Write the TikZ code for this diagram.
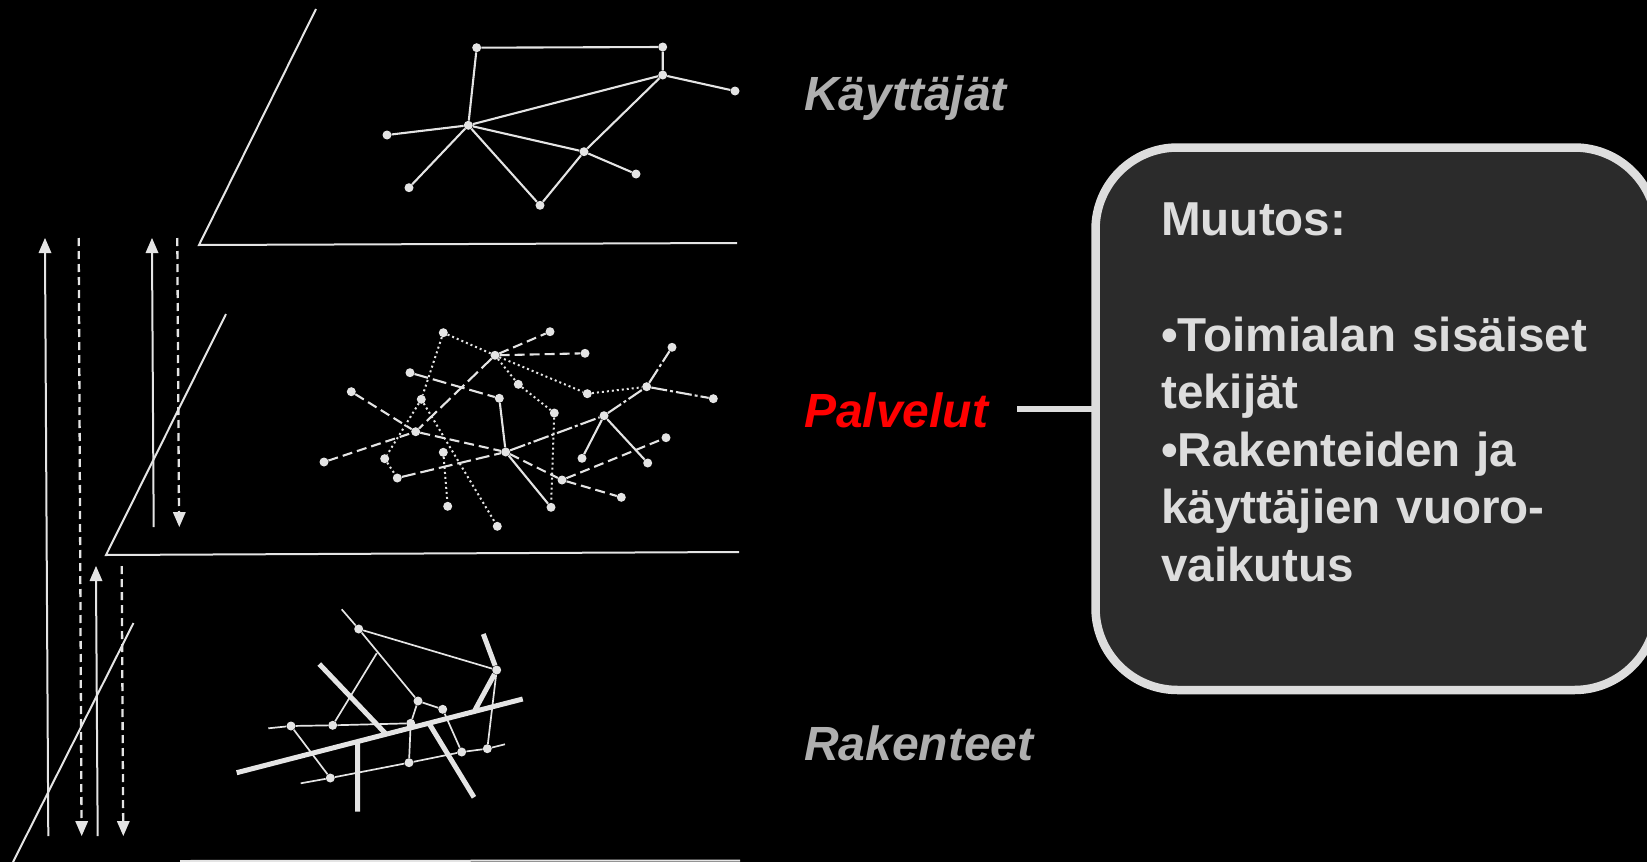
\documentclass[tikz,border=0pt]{standalone}
\usepackage{fontspec}
\setmainfont{Liberation Sans}
\definecolor{linegray}{HTML}{E4E4E4}
\definecolor{labelgray}{HTML}{AFAFAF}
\definecolor{boxfill}{HTML}{2B2B2B}
\definecolor{boxline}{HTML}{DDDDDD}
\definecolor{boxtext}{HTML}{DDDDDD}
\tikzset{
  netdot/.style={circle,fill=linegray,draw=none,inner sep=0pt,minimum size=9pt},
  planeline/.style={draw=linegray,line width=2pt},
  edge/.style={draw=linegray,line width=2.1pt},
  thinedge/.style={draw=linegray,line width=1.7pt},
  heavy/.style={draw=linegray,line width=5pt},
  dots/.style={draw=linegray,line width=2pt,dash pattern=on 2pt off 3pt},
  longdash/.style={draw=linegray,line width=2.1pt,dash pattern=on 14pt off 5pt},
  dashline/.style={draw=linegray,line width=2.1pt,dash pattern=on 10pt off 5pt},
  dashdot/.style={draw=linegray,line width=2.1pt,dash pattern=on 16pt off 3pt on 3pt off 3pt},
  flowup/.style={draw=linegray,line width=2pt},
  flowdash/.style={draw=linegray,line width=2.3pt,dash pattern=on 8pt off 5pt},
  tip/.style={fill=linegray,draw=none},
  lab/.style={font=\fontsize{48}{48}\selectfont\bfseries\itshape,anchor=base west,inner sep=0pt},
}
\begin{document}
\begin{tikzpicture}[x=1pt,y=-1pt]
\useasboundingbox (0,0) rectangle (1647,862);
\fill[black] (0,0) rectangle (1647,862);
% planes
\coordinate (pa1) at (316,9); \coordinate (pa2) at (199,245); \coordinate (pa3) at (737,243);
\coordinate (pb1) at (226,314); \coordinate (pb2) at (106,555); \coordinate (pb3) at (739,552);
\coordinate (pc1) at (133.5,623); \coordinate (pc2) at (13,862);
\coordinate (pd1) at (180,861); \coordinate (pd2) at (740,860.5);
\draw[planeline] (pa1) -- (pa2) -- (pa3);
\draw[planeline] (pb1) -- (pb2) -- (pb3);
\draw[planeline] (pc1) -- (pc2);
\draw[planeline] (pd1) -- (pd2);
% flow arrows
\coordinate (u1a) at (48.3,836); \coordinate (u1b) at (45,250);
\coordinate (u2a) at (153.7,527); \coordinate (u2b) at (152,250);
\coordinate (u3a) at (97.7,836); \coordinate (u3b) at (96,578);
\coordinate (d1a) at (78.7,238); \coordinate (d1b) at (81.5,825);
\coordinate (d2a) at (177.3,238); \coordinate (d2b) at (179,516);
\coordinate (d3a) at (121.7,566); \coordinate (d3b) at (123.2,825);
\draw[flowup] (u1a) -- (u1b); \draw[flowup] (u2a) -- (u2b); \draw[flowup] (u3a) -- (u3b);
\draw[flowdash] (d1a) -- (d1b); \draw[flowdash] (d2a) -- (d2b); \draw[flowdash] (d3a) -- (d3b);
\fill[tip] (45,238) -- (38.5,253) -- (51.5,253) -- cycle;
\fill[tip] (152,238) -- (145.5,253) -- (158.5,253) -- cycle;
\fill[tip] (96,566) -- (89.5,581) -- (102.5,581) -- cycle;
\fill[tip] (81.7,836) -- (75.2,821) -- (88.2,821) -- cycle;
\fill[tip] (179.3,527) -- (172.8,512) -- (185.8,512) -- cycle;
\fill[tip] (123.3,836) -- (116.8,821) -- (129.8,821) -- cycle;
% user network
\foreach \n/\x/\y in {a/476.7/47.7,b/662.7/47,c/662.7/75,d/735/91,e/468.3/125.3,f/387/135,g/409/187.7,h/540/205.3,i/584/151.7,j/636/174}
  \node[netdot] (\n) at (\x,\y) {};
\draw[edge] (a)--(b) (b)--(c) (c)--(d) (a)--(e) (e)--(c) (e)--(f) (e)--(g) (e)--(h) (e)--(i) (i)--(j) (i)--(h) (i)--(c);
% service network
\foreach \n/\x/\y in {n1/443.3/332.7,n2/550/331.7,n3/495/355.3,n4/585/353.3,n5/672/347.3,n6/410/372.7,n7/518.3/384.3,n8/587.3/393.7,n9/646.7/386.7,n10/713.3/398.7,n11/351.3/391.7,n12/421.3/399.3,n13/499.3/398.3,n14/554.3/413,n15/604/415.7,n16/415.7/431.7,n17/666/437.7,n18/443.3/452.3,n19/324/462,n20/384.7/458.7,n21/505.7/452,n22/582/458.3,n23/647.7/463,n24/397.3/478,n25/562/480,n26/621.3/497.3,n27/447.7/506.3,n28/551/507.3,n29/497.3/526.3}
  \node[netdot] (\n) at (\x,\y) {};
\draw[dots] (n1)--(n3) (n1)--(n12) (n12)--(n20) (n20)--(n24) (n12)--(n29) (n18)--(n27) (n3)--(n7) (n7)--(n14) (n14)--(n28) (n3)--(n8) (n8)--(n9);
\draw[dashline] (n3)--(n2) (n3)--(n4) (n11)--(n16) (n19)--(n16) (n16)--(n21) (n21)--(n25) (n25)--(n26) (n25)--(n17);
\draw[longdash] (n3)--(n16) (n6)--(n13) (n24)--(n21);
\draw[dashdot] (n21)--(n15) (n15)--(n9) (n9)--(n10) (n9)--(n5);
\draw[edge] (n13)--(n21) (n15)--(n22) (n15)--(n23) (n21)--(n28);
% structure network
\coordinate (q0) at (341.7,609.3); \coordinate (q1) at (268.3,728.3); \coordinate (q2) at (505,744.3); \coordinate (q3) at (300.7,783.3);
\coordinate (p3) at (376.7,653.3);
\foreach \n/\x/\y in {p1/358.7/629,p2/496.7/670,p4/418/701,p5/442.7/709.3,p6/332.7/725.3,p7/291/726,p8/410.7/723.3,p9/409/762.7,p10/461.7/752,p11/487.3/748.7,p12/330.3/778}
  \node[netdot] (\n) at (\x,\y) {};
\draw[thinedge] (q0)--(p1)--(p4) (p1)--(p2) (p3)--(p6) (p4)--(p5) (p4)--(p8) (p8)--(p9) (p5)--(p10) (p2)--(p11)
  (q1)--(p7)--(p6)--(p8) (p7)--(p12) (q3)--(p12)--(p9)--(p10)--(p11)--(q2);
\coordinate (t1a) at (236.7,772.7); \coordinate (t1b) at (522.7,699);
\coordinate (t2a) at (319.3,664); \coordinate (t2b) at (385.3,733.3);
\coordinate (t3a) at (357.7,741.7); \coordinate (t3b) at (357.7,811.7);
\coordinate (t4a) at (430,725); \coordinate (t4b) at (474,797.3);
\coordinate (t5a) at (483.3,634); \coordinate (t5b) at (475,710);
\draw[heavy] (t1a)--(t1b) (t2a)--(t2b) (t3a)--(t3b) (t4a)--(t4b) (t5a)--(p2)--(t5b);
% labels
\node[lab,text=labelgray] (l1) at (804,110) {Käyttäjät};
\node[lab,text=red] (l2) at (804,427) {Palvelut};
\node[lab,text=labelgray] (l3) at (804,760.5) {Rakenteet};
% box
\node[draw=boxline,fill=boxfill,line width=8.5pt,rounded corners=82pt,minimum width=561pt,minimum height=542.5pt,anchor=north west,inner sep=0pt,outer sep=0pt] (box) at (1095.5,147.5) {};
\draw[draw=boxline,line width=6pt] (1017,409) -- (box.west |- 0,409);
\node[anchor=north west,inner sep=0pt,text=boxtext,font=\fontsize{47.6}{57.6}\selectfont\bfseries,align=left,text width=480pt] (txt) at (1161,203)
 {Muutos:\\[57.6pt]•Toimialan sisäiset\\tekijät\\•Rakenteiden ja\\käyttäjien vuoro-\\vaikutus};
\end{tikzpicture}
\end{document}
